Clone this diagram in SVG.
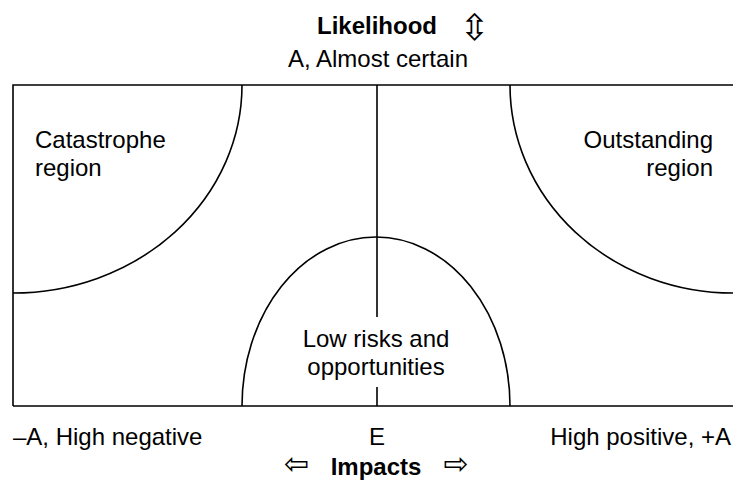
<svg xmlns="http://www.w3.org/2000/svg" width="733" height="481" viewBox="0 0 733 481">
<style>
.t{font-family:"Liberation Sans",Arial,sans-serif;font-size:24px;fill:#000}
.b{font-weight:bold}
.ar{font-family:"DejaVu Sans",sans-serif;font-size:30px;fill:#000}
.ln{fill:none;stroke:#000;stroke-width:1.6}
</style>
<rect width="733" height="481" fill="#fff"/>
<g id="axes-labels">
<text class="t b" x="377" y="34" text-anchor="middle">Likelihood</text>
<text class="ar" x="474.5" y="40" text-anchor="middle" style="font-size:36px">⇳</text>
<text class="t" x="378" y="67" text-anchor="middle">A, Almost certain</text>
<text class="t" x="13" y="445">–A, High negative</text>
<text class="t" x="377" y="445" text-anchor="middle">E</text>
<text class="t" x="731" y="445" text-anchor="end">High positive, +A</text>
<text class="ar" x="296.5" y="473.5" text-anchor="middle">⇦</text>
<text class="t b" x="376" y="475" text-anchor="middle">Impacts</text>
<text class="ar" x="456" y="473.5" text-anchor="middle">⇨</text>
</g>
<g id="frame">
<path class="ln" d="M13,406 V85 H733 M13,406 H733"/>
<path class="ln" d="M377,85 V317 M377,387 V406"/>
</g>
<g id="catastrophe">
<path class="ln" d="M242,85 A229,208 0 0 1 13,293"/>
<text class="t" x="35" y="148">Catastrophe</text>
<text class="t" x="35" y="176">region</text>
</g>
<g id="outstanding">
<path class="ln" d="M510,85 A223,208 0 0 0 733,293"/>
<text class="t" x="713" y="148" text-anchor="end">Outstanding</text>
<text class="t" x="713" y="176" text-anchor="end">region</text>
</g>
<g id="low-risks">
<path class="ln" d="M242,406 A134,169 0 0 1 510,406"/>
<text class="t" x="376" y="347" text-anchor="middle">Low risks and</text>
<text class="t" x="376" y="375" text-anchor="middle">opportunities</text>
</g>
</svg>
